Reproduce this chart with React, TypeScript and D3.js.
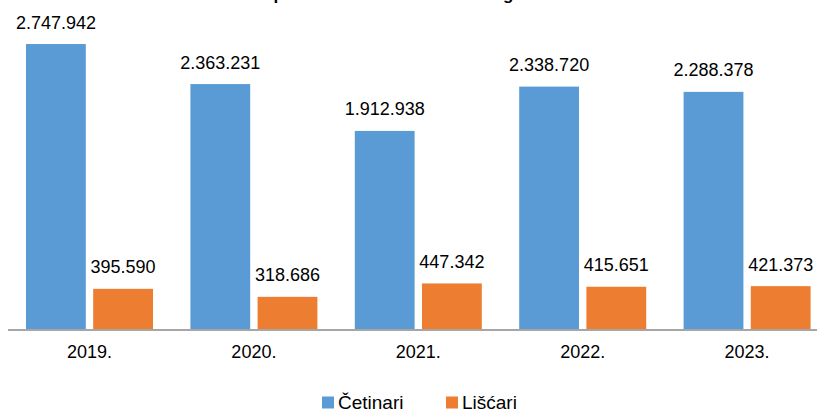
import React from "react";
import * as d3 from "d3";

const years = ["2019.", "2020.", "2021.", "2022.", "2023."];
const seriesNames = ["Četinari", "Lišćari"];
const cetinari = [2747942, 2363231, 1912938, 2338720, 2288378];
const liscari = [395590, 318686, 447342, 415651, 421373];
const colors = ["#5b9bd5", "#ed7d31"];
const titleText = "Ukupna drvna masa 2019.-2023. godine";

const W = 817;
const H = 410;
const fmt = (v: number) => d3.format(",")(v).replace(/,/g, ".");

export default function App() {
  const x0 = d3.scaleBand<string>().domain(years).range([7.3, 829.3]).paddingInner(0.2275).paddingOuter(0.11375);
  const x1 = d3.scaleBand<string>().domain(seriesNames).range([0, x0.bandwidth()]).paddingInner(0.11);
  const y = d3.scaleLinear().domain([0, 3000000]).range([330, 17.8]);
  const values = [cetinari, liscari];
  const font = "'Liberation Sans', Arial, sans-serif";

  return (
    <svg width={W} height={H} style={{ position: "absolute", left: 0, top: 0, background: "#fff" }} fontFamily={font}>
      <rect width={W} height={H} fill="#fff" />
      <text x={400} y={-0.5} textAnchor="middle" fontSize={17} fontWeight="bold" fill="#000">{titleText}</text>
      {years.map((yr, i) => (
        <g key={yr} transform={`translate(${x0(yr)},0)`}>
          {seriesNames.map((s, k) => {
            const v = values[k][i];
            const bx = x1(s)!;
            const bw = x1.bandwidth();
            return (
              <g key={s}>
                <rect x={bx} y={y(v)} width={bw} height={y(0) - y(v)} fill={colors[k]} />
                <text x={bx + bw / 2} y={y(v) - 15.5} textAnchor="middle" fontSize={18} fill="#000">{fmt(v)}</text>
              </g>
            );
          })}
          <text x={x0.bandwidth() / 2} y={358} textAnchor="middle" fontSize={18} fill="#000">{yr}</text>
        </g>
      ))}
      <line x1={8} x2={817} y1={330} y2={330} stroke="#a6a6a6" strokeWidth={2} />
      <g>
        <rect x={322} y={396.5} width={12} height={12} fill={colors[0]} />
        <text x={338} y={408.5} fontSize={19} fill="#000">{seriesNames[0]}</text>
        <rect x={446} y={396.5} width={12} height={12} fill={colors[1]} />
        <text x={462} y={408.5} fontSize={19} fill="#000">{seriesNames[1]}</text>
      </g>
    </svg>
  );
}
